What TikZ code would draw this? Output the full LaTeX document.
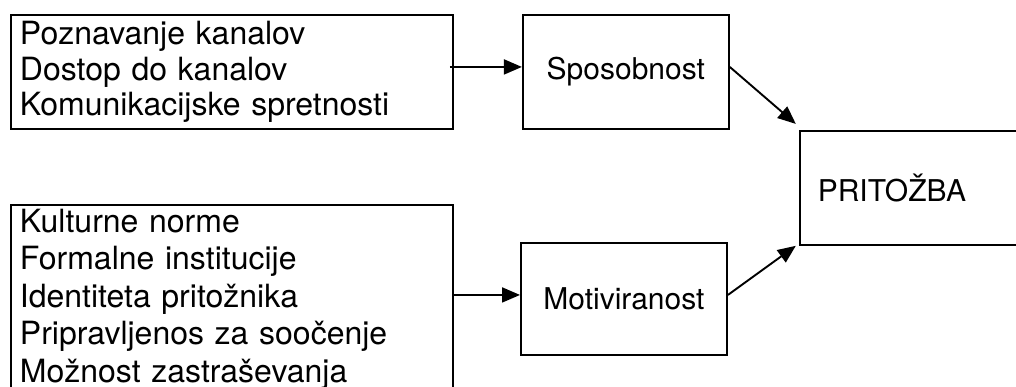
\documentclass[tikz,border=0pt]{standalone}
\usepackage{fontspec}
\setmainfont{TeX Gyre Heros}
\usetikzlibrary{arrows.meta}
\usetikzlibrary{calc,positioning}

\begin{document}
\begin{tikzpicture}[x=1pt, y=-1pt, line width=1.9pt,
    box/.style={draw, rectangle, inner sep=0pt},
    seznam/.style={box, anchor=north west, align=left, text width=424pt, minimum width=442pt},
    arr/.style={-{Triangle[length=18pt,width=15pt]}}]
    \useasboundingbox (0,0) rectangle (1016,387);
    \clip (0,0) rectangle (1016,387);
    % levi seznami dejavnikov
    \node[seznam, minimum height=114pt, font=\fontsize{32}{35.5}\selectfont] (sposobnosti) at (10,14)
        {Poznavanje kanalov\\ Dostop do kanalov\\ Komunikacijske spretnosti};
    \node[seznam, minimum height=188pt, font=\fontsize{32}{37.5}\selectfont] (motivi) at (10,204)
        {Kulturne norme\\ Formalne institucije\\ Identiteta pritožnika\\
         Pripravljenos za soočenje\\ Možnost zastraševanja};
    % srednji stolpec
    \node[box, minimum width=206pt, minimum height=114pt, font=\fontsize{30}{34}\selectfont,
        right=68pt of sposobnosti] (spos) {Sposobnost};
    \node[box, anchor=north west, minimum width=206pt, minimum height=112pt,
        font=\fontsize{30}{34}\selectfont] (motiv) at (520,242) {Motiviranost};
    % desno
    \node[box, anchor=north west, inner xsep=18pt, text width=224pt, minimum height=114pt,
        font=\fontsize{30}{34}\selectfont] (prit) at ([xshift=69pt]spos.south east) {PRITOŽBA};
    \coordinate (s_in) at ([yshift=5pt]spos.west);
    \coordinate (m_in) at ([yshift=4pt]motiv.west);
    \draw[arr] ([xshift=-4pt]s_in -| sposobnosti.east) -- (s_in);
    \draw[arr] (m_in -| motivi.east) -- (m_in);
    \draw[arr] ([yshift=5pt]spos.east) -- ([shift={(-3pt,6pt)}]prit.north west);
    \draw[arr] ([yshift=4pt]motiv.east) -- ([xshift=-3pt]prit.south west);
\end{tikzpicture}
\end{document}
